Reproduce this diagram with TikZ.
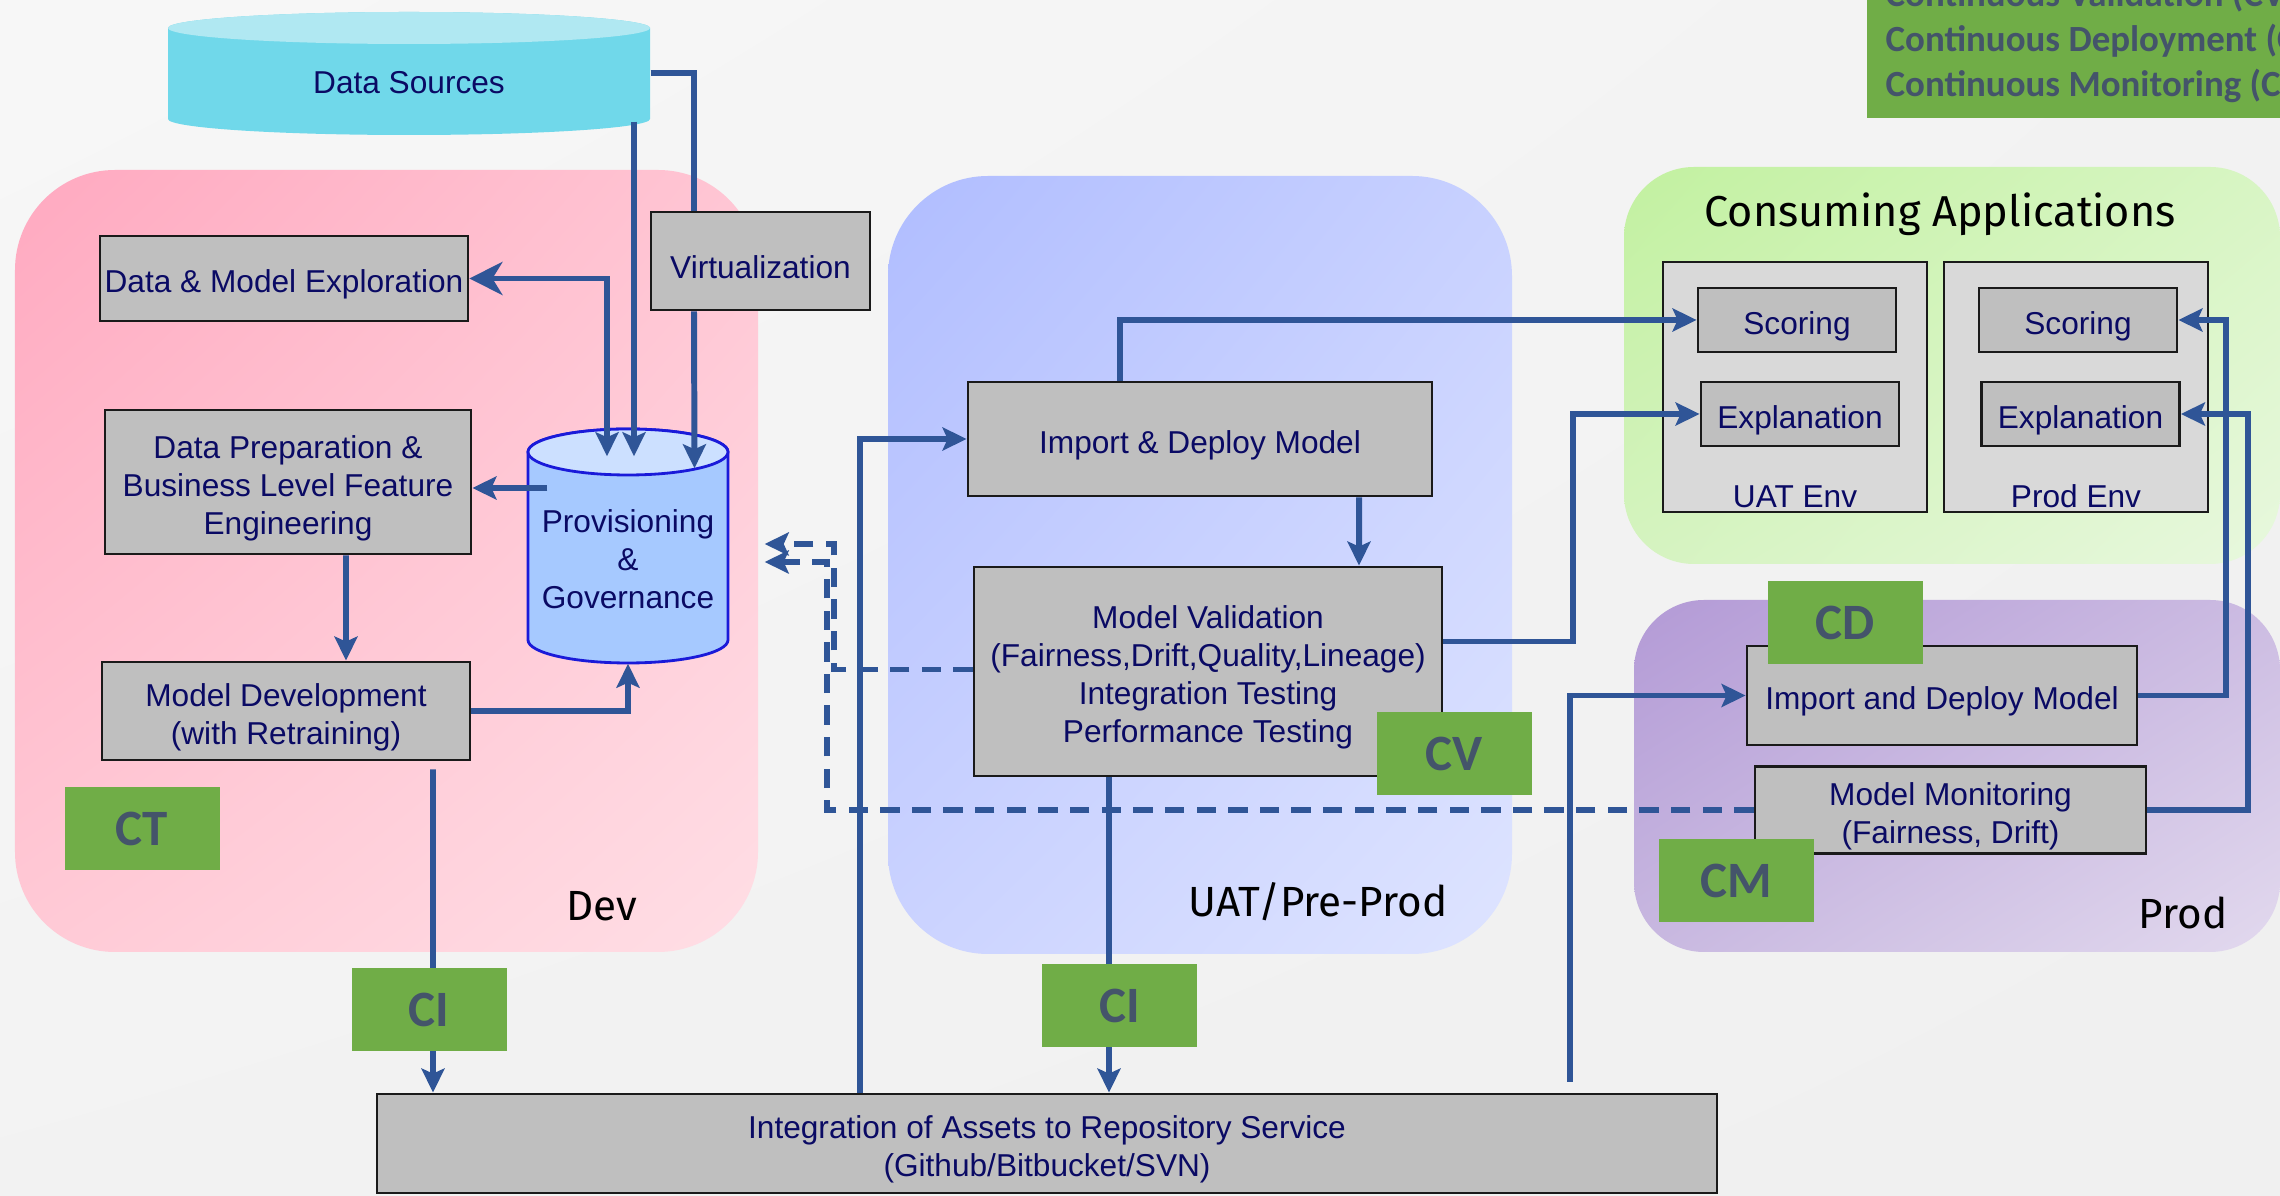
\documentclass[tikz,border=0pt]{standalone}
\usepackage{fontspec}
\setmainfont{Liberation Sans}
\newfontfamily\tagfont{Carlito}
\newfontfamily\areafont{Fira Sans}
\usetikzlibrary{arrows.meta,shadings}

\definecolor{flowblue}{HTML}{2F5597}
\definecolor{tagreen}{HTML}{70AD47}
\definecolor{tagtext}{HTML}{44546A}
\definecolor{boxgray}{HTML}{BFBFBF}
\definecolor{envgray}{HTML}{D9D9D9}
\definecolor{boxline}{HTML}{1A1A1A}
\definecolor{navytext}{HTML}{0A0A64}
\definecolor{srcbody}{HTML}{70D8EA}
\definecolor{srclid}{HTML}{B0E8F2}
\definecolor{provbody}{HTML}{A6C9FF}
\definecolor{provlid}{HTML}{CCE0FF}
\definecolor{provline}{HTML}{1A1AD9}

\newcommand{\toprow}{\rule{0pt}{1.1em}}

\tikzset{
  procbox/.style={draw=boxline, line width=0.8pt, fill=boxgray, text=navytext,
    align=center, inner sep=1pt, font=\fontsize{9}{10.8}\selectfont,
    execute at begin node={\toprow}},
  envbox/.style={draw=boxline, line width=0.8pt, fill=envgray},
  envlabel/.style={anchor=south, inner sep=1.5pt, text=navytext, font=\fontsize{9}{10.8}\selectfont},
  tag/.style={fill=tagreen, text=tagtext, minimum width=1.55cm, minimum height=0.83cm,
    font=\tagfont\bfseries\fontsize{14.5}{16}\selectfont},
  legendtext/.style={text=tagtext, inner sep=0pt, font=\tagfont\bfseries\fontsize{10.5}{12.8}\selectfont},
  area/.style={text=black, font=\areafont\fontsize{12}{14}\selectfont},
  dashflow/.style={dash pattern=on 5.5pt off 3.5pt}
}

\begin{document}
\begin{tikzpicture}
\clip (0,0) rectangle (22.8,-11.96);
\shade[upper left=white!97!black, upper right=white!95!black, lower left=white!95!black, lower right=white!94!black] (0,0) rectangle (22.8,-11.96);

\shade[rounded corners=1cm, upper left={rgb,255:red,255;green,169;blue,192}, upper right={rgb,255:red,255;green,198;blue,212},
  lower left={rgb,255:red,255;green,202;blue,214}, lower right={rgb,255:red,255;green,222;blue,229}] (0.15,-1.70) rectangle (7.58,-9.52);
\shade[rounded corners=1cm, upper left={rgb,255:red,176;green,189;blue,255}, upper right={rgb,255:red,200;green,209;blue,255},
  lower left={rgb,255:red,203;green,211;blue,255}, lower right={rgb,255:red,222;green,228;blue,255}] (8.88,-1.76) rectangle (15.12,-9.54);
\shade[rounded corners=0.7cm, upper left={rgb,255:red,194;green,241;blue,160}, upper right={rgb,255:red,216;green,245;blue,196},
  lower left={rgb,255:red,213;green,243;blue,192}, lower right={rgb,255:red,232;green,248;blue,222}] (16.24,-1.67) rectangle (22.8,-5.64);
\shade[rounded corners=0.7cm, upper left={rgb,255:red,179;green,154;blue,214}, upper right={rgb,255:red,204;green,188;blue,226},
  lower left={rgb,255:red,200;green,184;blue,224}, lower right={rgb,255:red,226;green,217;blue,238}] (16.34,-6.00) rectangle (22.8,-9.52);

\node[area] (devlbl) at (6.02,-9.06) {Dev};
\node[area] (uatlbl) at (13.18,-9.02) {UAT/Pre-Prod};
\node[area] (prodlbl) at (21.83,-9.13) {Prod};
\node[area, font=\areafont\fontsize{12.3}{14}\selectfont] (conslbl) at (19.40,-2.14) {Consuming Applications};

\fill[srcbody] (1.68,-0.28) -- (1.68,-1.19) arc[start angle=180, end angle=360, x radius=2.41, y radius=0.16]
  -- (6.50,-0.28) arc[start angle=0, end angle=180, x radius=2.41, y radius=0.16] -- cycle;
\fill[srclid] (4.09,-0.28) ellipse [x radius=2.41, y radius=0.16];
\node[text=navytext, font=\fontsize{9}{10.8}\selectfont, minimum width=4.82cm, minimum height=1.23cm, inner sep=0pt,
  execute at begin node={\rule{0pt}{1.3em}}] (src) at (4.09,-0.735) {Data Sources};

\filldraw[fill=provbody, draw=provline, line width=0.8pt] (5.28,-4.52) -- (5.28,-6.40) arc[start angle=180, end angle=360, x radius=1, y radius=0.23]
  -- (7.28,-4.52) arc[start angle=0, end angle=180, x radius=1, y radius=0.23] -- cycle;
\filldraw[fill=provlid, draw=provline, line width=0.8pt] (6.28,-4.52) ellipse [x radius=1, y radius=0.23];
\node[minimum width=2cm, minimum height=2.34cm, inner sep=0pt,
  label={[yshift=-0.13cm, align=center, text=navytext, font=\fontsize{9}{10.8}\selectfont]center:Provisioning\\\&\\Governance}] (prov) at (6.28,-5.46) {};

\node[envbox, minimum width=2.64cm, minimum height=2.50cm, label={[envlabel]south:UAT Env}] (uatenv) at (17.95,-3.87) {};
\node[envbox, minimum width=2.64cm, minimum height=2.50cm, label={[envlabel]south:Prod Env}] (prodenv) at (20.76,-3.87) {};

\begin{scope}[every node/.style={procbox}]
  \node[minimum width=3.68cm, minimum height=0.85cm] (explore) at (2.84,-2.785) {Data \& Model Exploration};
  \node[minimum width=2.19cm, minimum height=0.98cm] (virt) at (7.605,-2.61) {Virtualization};
  \node[minimum width=3.66cm, minimum height=1.44cm] (prep) at (2.88,-4.82) {\toprow Data Preparation \&\\Business Level Feature\\Engineering};
  \node[minimum width=3.68cm, minimum height=0.98cm] (moddev) at (2.86,-7.11) {\toprow Model Development\\(with Retraining)};
  \node[minimum width=4.64cm, minimum height=1.14cm] (impdep) at (12.00,-4.39) {Import \& Deploy Model};
  \node[minimum width=4.68cm, minimum height=2.09cm] (modval) at (12.08,-6.715) {\toprow Model Validation\\(Fairness,Drift,Quality,Lineage)\\Integration Testing\\Performance Testing};
  \node[minimum width=1.98cm, minimum height=0.64cm] (uatscore) at (17.97,-3.20) {Scoring};
  \node[minimum width=1.98cm, minimum height=0.64cm] (uatexpl) at (18.00,-4.14) {Explanation};
  \node[minimum width=1.98cm, minimum height=0.64cm] (prodscore) at (20.78,-3.20) {Scoring};
  \node[minimum width=1.98cm, minimum height=0.64cm] (prodexpl) at (20.805,-4.14) {Explanation};
  \node[minimum width=3.90cm, minimum height=0.99cm] (prodimp) at (19.42,-6.955) {Import and Deploy Model};
  \node[minimum width=3.91cm, minimum height=0.82cm] (modmon) at (19.505,-8.10) {\toprow Model Monitoring\\(Fairness, Drift)};
  \node[minimum width=13.40cm, minimum height=0.99cm] (integ) at (10.47,-11.435) {\toprow Integration of Assets to Repository Service\\(Github/Bitbucket/SVN)};
\end{scope}

\begin{scope}[flowblue, line width=1.7pt, >={Stealth[length=2.4mm, width=2.3mm, inset=0.5mm]}]
  \draw[{Stealth[length=3.3mm, width=3.3mm, inset=1mm]}->] (explore.east) -| ([shift={(-0.21,-0.28)}]prov.north);
  \draw[->] ([shift={(2.25,0.14)}]src.south) -- ([shift={(0.06,-0.28)}]prov.north);
  \draw (src.east) -| ([xshift=-0.665cm]virt.north);
  \draw[->] ([xshift=-0.665cm]virt.south) -- ([shift={(0.665,-0.40)}]prov.north);
  \draw[->] ([shift={(0.20,0.58)}]prov.west) -- ([yshift=-0.06cm]prep.east);
  \draw[->] ([xshift=0.58cm]prep.south) -- ([xshift=0.60cm]moddev.north);
  \draw[->] (moddev.east) -| (prov.south);
  \draw[->] ([shift={(1.47,-0.08)}]moddev.south) -- ([xshift=1.47cm]moddev.south |- integ.north);
  \draw[->] ([xshift=-1.87cm]integ.north) |- (impdep.west);
  \draw[->] ([xshift=-0.80cm]impdep.north) |- (uatscore.west);
  \draw[->] ([xshift=1.59cm]impdep.south) -- ([xshift=1.51cm]modval.north);
  \draw[->] ([yshift=0.30cm]modval.east) -- ++(1.30,0) |- (uatexpl.west);
  \draw[->] ([xshift=-0.99cm]modval.south) -- ([xshift=-0.99cm]modval.south |- integ.north);
  \draw[->] ([shift={(5.23,0.11)}]integ.north) |- (prodimp.west);
  \draw[->] (prodimp.east) -- ++(0.88,0) |- (prodscore.east);
  \draw[->] (modmon.east) -- ++(1.01,0) |- (prodexpl.east);
  \draw[->, dashflow] ([yshift=0.02cm]modval.west) -- ++(-1.39,0) |- ([shift={(0.36,0.02)}]prov.east);
  \draw[->, dashflow] (modmon.west) -- ++(-9.27,0) |- ([shift={(0.36,-0.16)}]prov.east);
\end{scope}

\begin{scope}[every node/.style={tag}]
  \node (ct) at (1.42,-8.285) {CT};
  \node (ci1) at (4.29,-10.095) {CI};
  \node (ci2) at (11.195,-10.06) {CI};
  \node (cv) at (14.54,-7.535) {CV};
  \node (cd) at (18.45,-6.225) {CD};
  \node (cm) at (17.36,-8.805) {CM};
\end{scope}

\fill[tagreen] (18.67,0) rectangle (22.8,-1.18);
\node[legendtext, anchor=base west] (leg1) at (18.85,-0.07) {Continuous Validation (CV)};
\node[legendtext, anchor=base west] (leg2) at (18.85,-0.52) {Continuous Deployment (CD)};
\node[legendtext, anchor=base west] (leg3) at (18.85,-0.97) {Continuous Monitoring (CM)};
\end{tikzpicture}
\end{document}
